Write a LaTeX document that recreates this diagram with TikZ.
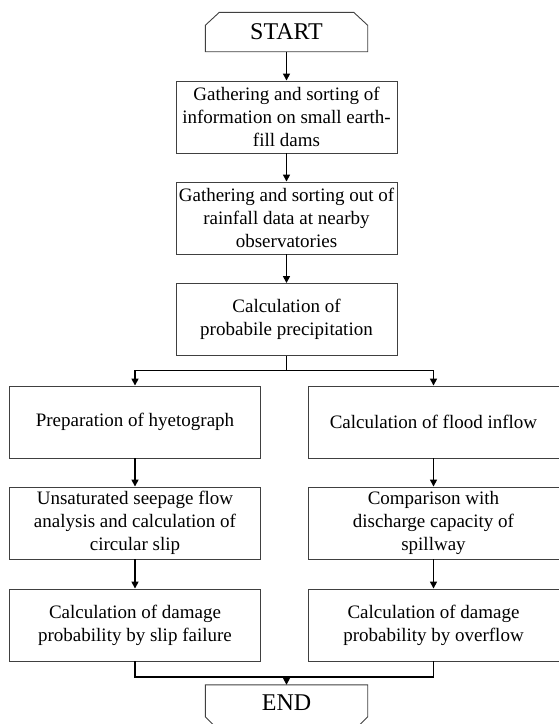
\documentclass[tikz,border=0pt]{standalone}
\usepackage{fontspec}
\setmainfont{Liberation Serif}
\usetikzlibrary{arrows.meta,calc}
\begin{document}
\begin{tikzpicture}[x=1pt,y=-1pt,
  proc/.style={draw=black!75, line width=0.9pt, align=center, inner sep=0pt, font=\fontsize{19}{23}\selectfont},
  mid/.style={proc, minimum width=221pt, minimum height=72pt},
  side/.style={proc, minimum width=251pt, minimum height=72pt},
  term/.style={align=center, inner sep=0pt, minimum width=162pt, minimum height=39pt, font=\fontsize{24}{28}\selectfont},
  termline/.style={draw=black!75, line width=0.9pt},
  arr/.style={line width=1.5pt, -{Triangle[length=7pt,width=7pt]}},
  conn/.style={line width=1.8pt}]
\useasboundingbox (0,0) rectangle (558,724);
\node[term] (start) at (286.5,32) {START};
\node[mid] (b1) at (286.5,117) {Gathering and sorting of\\information on small earth-\\fill dams};
\node[mid] (b2) at (286.5,218) {Gathering and sorting out of\\rainfall data at nearby\\observatories};
\node[mid] (b3) at (286.5,319.5) {Calculation of\\probabile precipitation};
\node[side] (b4) at (135,422) {Preparation of hyetograph};
\node[side] (b5) at (135,523) {Unsaturated seepage flow\\analysis and calculation of\\circular slip};
\node[side] (b6) at (135,625) {Calculation of damage\\probability by slip failure};
\node[side] (b7) at (433.5,422) {Calculation of flood inflow};
\node[side] (b8) at (433.5,523) {Comparison with\\discharge capacity of\\spillway};
\node[side] (b9) at (433.5,625) {Calculation of damage\\probability by overflow};
\node[term, minimum height=36pt] (end) at (286.5,703) {END};
% terminal outlines
\draw[termline] (start.south west) -- ($(start.north west)+(0,13)$) -- ($(start.north west)+(14,0)$) -- ($(start.north east)+(-14,0)$) -- ($(start.north east)+(0,13)$) -- (start.south east) -- cycle;
\draw[termline] (end.north west) -- ($(end.north west)+(0,32)$) -- ($(end.north west)+(13,45)$) -- ($(end.north east)+(-13,45)$) -- ($(end.north east)+(0,32)$) -- (end.north east) -- cycle;
% main column
\draw[arr] (start) -- (b1);
\draw[arr] (b1) -- (b2);
\draw[arr] (b2) -- (b3);
% split
\coordinate (sp) at ($(b3.south)+(0,14.5)$);
\draw[conn] (b3) -- (sp);
\draw[arr] (sp) -| (b4);
\draw[arr] (sp) -| (b7);
% branches
\draw[arr] (b4) -- (b5);
\draw[arr] (b5) -- (b6);
\draw[arr] (b7) -- (b8);
\draw[arr] (b8) -- (b9);
% merge
\coordinate (mg) at (286.5,677);
\draw[conn] (b6) |- (mg);
\draw[conn] (b9) |- (mg);
\draw[arr] (mg) -- (end);
\end{tikzpicture}
\end{document}
